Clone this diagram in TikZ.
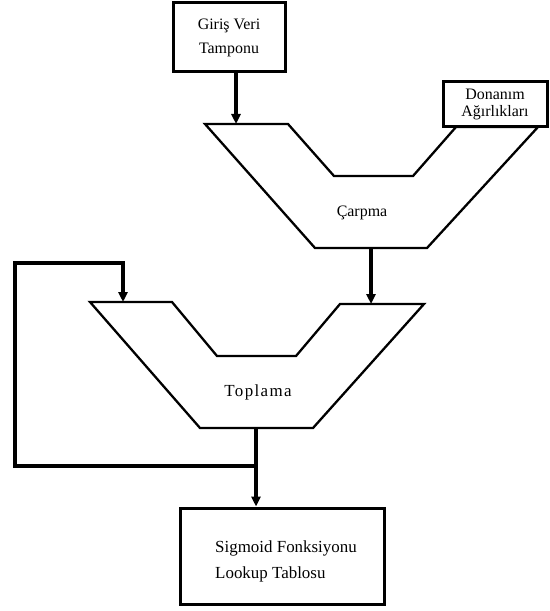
\documentclass[tikz,border=0pt]{standalone}
\usepackage{fontspec}
\setmainfont{Liberation Serif}
\usetikzlibrary{arrows.meta}
\begin{document}
\begin{tikzpicture}[x=1bp,y=-1bp,
  txt/.style={font=\fontsize{16}{24}\selectfont},
  box/.style={txt, draw, line width=3bp, align=center, inner sep=0pt},
  unit/.style={draw, line width=2.3bp, line join=miter},
  wire/.style={line width=3.2bp, line join=miter},
  flow/.style={wire, -{Triangle[length=10bp,width=9bp]}}]
\useasboundingbox (0,0) rectangle (550,611);

% input buffer and weight memory
\node[box, minimum width=112bp, minimum height=69bp] (giris) at (229,37.5) {Giriş Veri\\Tamponu};
\node[box, minimum width=104bp, minimum height=45bp, font=\fontsize{16}{18}\selectfont] (agirlik) at (495,104.5) {Donanım\\Ağırlıkları};

% multiplier unit
\draw[unit] (205,124) -- (288,124) -- (334,176) -- (413,176) -- (456,127)
  -- (538,127) -- (427,248) -- (315,248) -- cycle;
\node[txt] (carpLbl) at (362,213) {Çarpma};
\coordinate (carpIn) at (236,124);
\coordinate (carpOut) at (371,248);

% adder unit
\draw[unit] (90,302) -- (172,302) -- (217,356) -- (296,356) -- (340,304)
  -- (424,304) -- (313,428) -- (200,428) -- cycle;
\node[txt, font=\fontsize{17}{19}\selectfont\addfontfeature{LetterSpace=8}] (topLbl) at (258,392) {Toplama};
\coordinate (topIn1) at (123,302);
\coordinate (topIn2) at (371,304);
\coordinate (topOut) at (256,428);

% sigmoid lookup table
\node[box, minimum width=204bp, minimum height=96bp] (sig) at (282,556) {};
\node[align=left, inner sep=0pt, font=\fontsize{17}{26}\selectfont] (sigTxt) at (286,561)
  {Sigmoid Fonksiyonu\\Lookup Tablosu};

% data paths
\coordinate (split) at (256,466);
\coordinate (loopA) at (15,466);
\coordinate (loopB) at (15,263);
\coordinate (loopC) at (123,263);
\draw[flow] (giris.south -| carpIn) -- (carpIn);
\draw[flow] (carpOut) -- (topIn2);
\draw[wire] (topOut) -- (split);
\draw[flow] (split) -- (sig.north -| split);
\draw[flow] (split) -- (loopA) -- (loopB) -- (loopC) -- (topIn1);
\end{tikzpicture}
\end{document}
